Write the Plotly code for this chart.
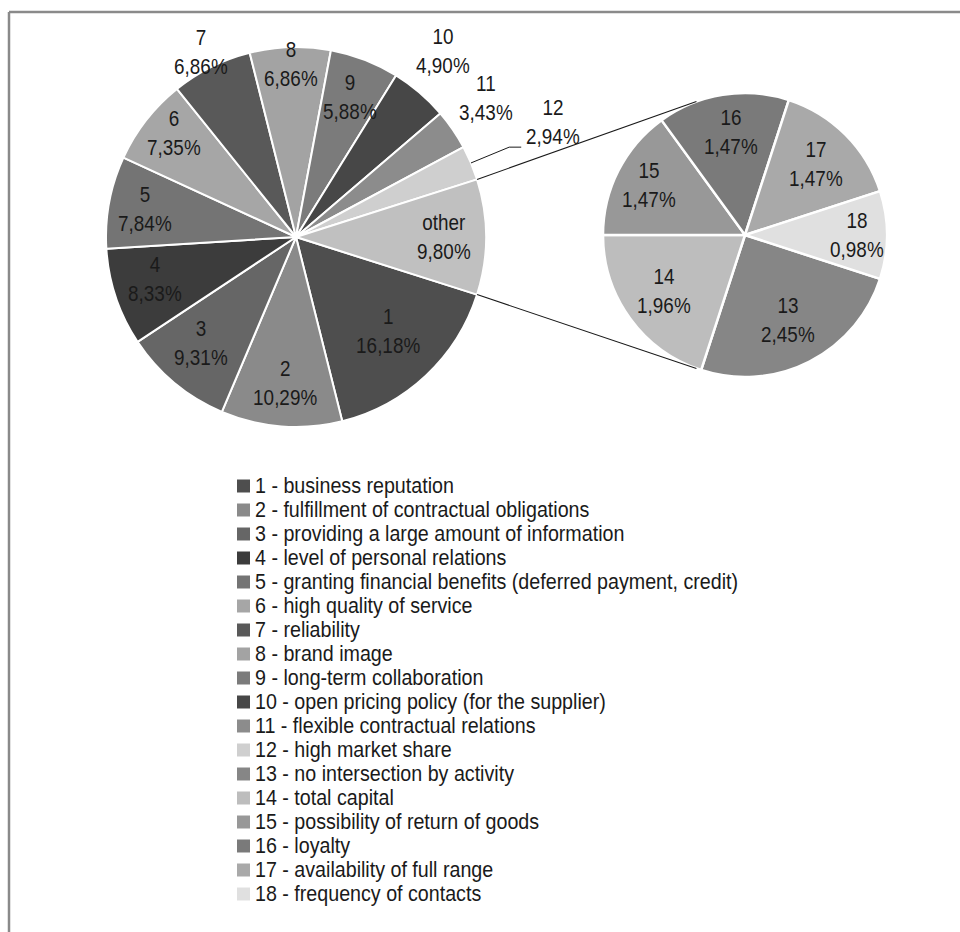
import math
import plotly.graph_objects as go

# ---- data -------------------------------------------------------------
main_ids = ["1", "2", "3", "4", "5", "6", "7", "8", "9", "10", "11", "12", "other"]
main_values = [16.18, 10.29, 9.31, 8.33, 7.84, 7.35, 6.86, 6.86, 5.88, 4.90, 3.43, 2.94, 9.80]

sub_ids = ["13", "14", "15", "16", "17", "18"]
sub_values = [2.45, 1.96, 1.47, 1.47, 1.47, 0.98]

legend_names = [
    "business reputation",
    "fulfillment of contractual obligations",
    "providing a large amount of information",
    "level of personal relations",
    "granting financial benefits (deferred payment, credit)",
    "high quality of service",
    "reliability",
    "brand image",
    "long-term collaboration",
    "open pricing policy (for the supplier)",
    "flexible contractual relations",
    "high market share",
    "no intersection by activity",
    "total capital",
    "possibility of return of goods",
    "loyalty",
    "availability of full range",
    "frequency of contacts",
]

# ---- styling ----------------------------------------------------------
main_colors = ["#4e4e4e", "#8a8a8a", "#666666", "#3c3c3c", "#747474", "#a6a6a6",
               "#595959", "#a3a3a3", "#7b7b7b", "#474747", "#8c8c8c", "#cfcfcf",
               "#c0c0c0"]
sub_colors = ["#868686", "#bdbdbd", "#989898", "#7a7a7a", "#a9a9a9", "#e0e0e0"]

# radial position of each slice label, as a fraction of the pie radius,
# plus a small pixel nudge (dx, dy; dy positive = up)
main_label_k = [0.71, 0.78, 0.75, 0.78, 0.81, 0.84, 1.08, 0.89, 0.79, 1.24, 1.23, 1.47, 0.78]
main_nudge = [(0, 4), (0, 2), (-4, 4), (0, 5), (0, 0), (4, 6), (-4, 1), (0, 4),
              (0, 0), (-6, 7), (-3, 7), (0, 6), (0, 0)]
sub_label_k = [0.67, 0.68, 0.76, 0.73, 0.73, 0.79]
sub_nudge = [(0, 0), (-3, 1), (0, 1), (2, 1), (-2, -2), (0, 0)]

FONT = "Liberation Sans, Arial, sans-serif"
LABEL_SIZE, LABEL_NARROW = 22.5, 0.84     # slice labels
LEGEND_SIZE, LEGEND_NARROW = 21.5, 0.915  # legend lines
TEXT_COLOR = "#1a1a1a"
W, H = 960, 932

main_c, main_r = (296, 237), 190
sub_c, sub_r = (745, 235), 142


def px_to_paper(x, y):
    return x / W, 1 - y / H


def domain(c, r):
    return dict(x=[(c[0] - r) / W, (c[0] + r) / W],
                y=[1 - (c[1] + r) / H, 1 - (c[1] - r) / H])


def rotation_for(values):
    # last slice centred on the 3 o'clock direction
    return 90 + 0.5 * values[-1] / sum(values) * 360


def polar(c, r, ang):
    a = math.radians(ang)
    return c[0] + r * math.sin(a), c[1] - r * math.cos(a)


def mid_angles(values, rot):
    tot = sum(values)
    out, acc = [], rot
    for v in values:
        span = v / tot * 360
        out.append(acc + span / 2)
        acc += span
    return out


def fmt(v):
    return f"{v:.2f}".replace(".", ",") + "%"


main_rot = rotation_for(main_values)
sub_rot = rotation_for(sub_values)

fig = go.Figure()
fig.add_trace(go.Pie(
    labels=main_ids, values=main_values, sort=False, direction="clockwise",
    rotation=main_rot, domain=domain(main_c, main_r), textinfo="none",
    hoverinfo="skip", showlegend=False,
    marker=dict(colors=main_colors, line=dict(color="white", width=2)),
))
fig.add_trace(go.Pie(
    labels=sub_ids, values=sub_values, sort=False, direction="clockwise",
    rotation=sub_rot, domain=domain(sub_c, sub_r), textinfo="none",
    hoverinfo="skip", showlegend=False,
    marker=dict(colors=sub_colors, line=dict(color="white", width=2.5)),
))

annotations = []
shapes = []

# slice labels
for ids, vals, ks, nudges, c, r, rot in [
    (main_ids, main_values, main_label_k, main_nudge, main_c, main_r, main_rot),
    (sub_ids, sub_values, sub_label_k, sub_nudge, sub_c, sub_r, sub_rot),
]:
    for name, v, k, (nx, ny), ang in zip(ids, vals, ks, nudges, mid_angles(vals, rot)):
        lx, ly = polar(c, r * k, ang)
        px, py = px_to_paper(lx, ly)
        annotations.append(dict(
            x=px, y=py, xref="paper", yref="paper", showarrow=False,
            xshift=nx, yshift=ny,
            text=f"{name}<br>{fmt(v)}", align="center",
            xanchor="center", yanchor="middle",
            font=dict(family=FONT, size=LABEL_SIZE, color=TEXT_COLOR),
        ))

# leader line for the narrow slice 12
ang12 = mid_angles(main_values, main_rot)[11]
p0 = polar(main_c, main_r, ang12)
lab = polar(main_c, main_r * main_label_k[11], ang12)
elbow = (lab[0] - 44, lab[1] + 19)
end = (lab[0] - 32, lab[1] + 19)
for a, b in [(p0, elbow), (elbow, end)]:
    x0, y0 = px_to_paper(*a)
    x1, y1 = px_to_paper(*b)
    shapes.append(dict(type="line", xref="paper", yref="paper",
                       x0=x0, y0=y0, x1=x1, y1=y1,
                       line=dict(color="#1a1a1a", width=1)))

# connector lines from the "other" slice to the secondary pie
other_span = main_values[-1] / sum(main_values) * 360
for sgn, sub_ang in [(-1, -20), (1, 200)]:
    a = polar(main_c, main_r, 90 + sgn * other_span / 2)
    b = polar(sub_c, sub_r, sub_ang)
    x0, y0 = px_to_paper(*a)
    x1, y1 = px_to_paper(*b)
    shapes.append(dict(type="line", xref="paper", yref="paper",
                       x0=x0, y0=y0, x1=x1, y1=y1,
                       line=dict(color="#1a1a1a", width=1.1)))

# legend
all_ids = main_ids[:-1] + sub_ids
all_colors = main_colors[:-1] + sub_colors
leg_x, leg_y0, leg_dy = 237, 486, 24
for i, (num, name, col) in enumerate(zip(all_ids, legend_names, all_colors)):
    yc = leg_y0 + leg_dy * i
    x0, y0 = px_to_paper(leg_x, yc + 6.5)
    x1, y1 = px_to_paper(leg_x + 13, yc - 6.5)
    shapes.append(dict(type="rect", xref="paper", yref="paper",
                       x0=x0, y0=y0, x1=x1, y1=y1,
                       fillcolor=col, line=dict(width=0)))
    tx, ty = px_to_paper(leg_x + 16, yc)
    annotations.append(dict(
        x=tx, y=ty, xref="paper", yref="paper", showarrow=False,
        text=f"{num} - {name}", xanchor="left", yanchor="middle", align="left",
        font=dict(family=FONT, size=LEGEND_SIZE, color=TEXT_COLOR),
    ))

# chart frame (top and left edges)
fx, fy = 9, 12
shapes.append(dict(type="line", xref="paper", yref="paper",
                   x0=fx / W, x1=1, y0=1 - fy / H, y1=1 - fy / H,
                   line=dict(color="#8a8a8a", width=2.5)))
shapes.append(dict(type="line", xref="paper", yref="paper",
                   x0=fx / W, x1=fx / W, y0=0, y1=1 - fy / H,
                   line=dict(color="#8a8a8a", width=2.5)))

fig.update_layout(
    width=W, height=H,
    margin=dict(l=0, r=0, t=0, b=0),
    paper_bgcolor="white", plot_bgcolor="white",
    annotations=annotations, shapes=shapes,
    showlegend=False,
)

# condense annotation text horizontally (narrow sans look): left-aligned
# legend lines keep their left edge, centred labels keep their centre
condense_js = """
var gd = document.getElementById('{plot_id}');
gd.querySelectorAll('text.annotation-text').forEach(function (t) {
    var b = t.getBBox();
    var start = t.getAttribute('text-anchor') === 'start';
    var ox = start ? b.x : b.x + b.width / 2;
    var s = start ? %s : %s;
    t.setAttribute('transform',
        'translate(' + ox + ',0) scale(' + s + ',1) translate(' + (-ox) + ',0)');
});
""" % (LEGEND_NARROW, LABEL_NARROW)

fig.write_html("out.html", post_script=condense_js)
